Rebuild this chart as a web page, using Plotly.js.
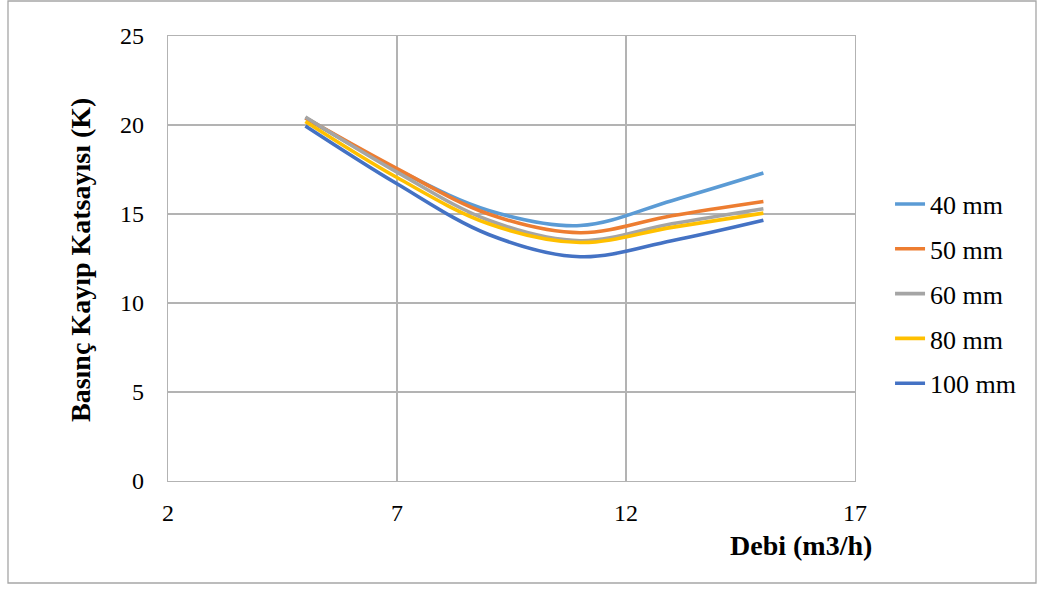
<!DOCTYPE html>
<html>
<head>
<meta charset="utf-8">
<script src="https://cdn.plot.ly/plotly-3.0.1.min.js"></script>
<style>
html,body{margin:0;padding:0;background:#fff;}
#chart{width:1046px;height:590px;}
</style>
</head>
<body>
<div id="chart"></div>
<script>
const debi = [5, 7, 9, 11, 13, 15];
const k40  = [20.4, 17.5, 15.2, 14.35, 15.75, 17.3];
const k50  = [20.4, 17.55, 15.0, 13.95, 14.9, 15.7];
const k60  = [20.45, 17.35, 14.65, 13.5, 14.45, 15.3];
const k80  = [20.2, 17.05, 14.45, 13.4, 14.25, 15.05];
const k100 = [19.95, 16.7, 13.85, 12.6, 13.5, 14.65];
const names = ["40 mm", "50 mm", "60 mm", "80 mm", "100 mm"];
const series = [k40, k50, k60, k80, k100];
const colors = ["#5B9BD5", "#ED7D31", "#A5A5A5", "#FFC000", "#4472C4"];
const xTicks = [2, 7, 12, 17];
const yTicks = [0, 5, 10, 15, 20, 25];

const traces = series.map((s, i) => ({
  x: debi, y: s, name: names[i], type: "scatter", mode: "lines",
  legendgroup: "g" + i,
  line: {color: colors[i], width: 3.6, shape: "spline", smoothing: 1.0}
}));

const font = {family: "Liberation Serif, Times New Roman, serif", color: "#000"};
const gridc = "#b3b3b3";

const layout = {
  width: 1046, height: 590,
  margin: {l: 168, r: 191, t: 36, b: 109},
  paper_bgcolor: "#fff", plot_bgcolor: "#fff",
  font: Object.assign({size: 24}, font),
  showlegend: true,
  legend: {x: 1.051, y: 0.42, xanchor: "left", yanchor: "middle",
           font: Object.assign({size: 26}, font), tracegroupgap: 8,
           bgcolor: "rgba(0,0,0,0)"},
  xaxis: {range: [2, 17], tickvals: xTicks, ticktext: xTicks.map(String),
          showgrid: true, gridcolor: gridc, gridwidth: 1.3,
          showline: true, linecolor: gridc, linewidth: 1.3, mirror: true,
          zeroline: false, ticks: "", ticklabelstandoff: 10,
          tickfont: Object.assign({size: 24}, font)},
  yaxis: {range: [0, 25], tickvals: yTicks, ticktext: yTicks.map(String),
          showgrid: true, gridcolor: gridc, gridwidth: 1.3,
          showline: true, linecolor: gridc, linewidth: 1.3, mirror: true,
          zeroline: false, ticks: "", ticklabelstandoff: 18,
          tickfont: Object.assign({size: 24}, font)},
  annotations: [
    {text: "<b>Basınç Kayıp Katsayısı (K)</b>", xref: "paper", yref: "paper",
     x: (80 - 168) / 687, y: (481 - 260) / 445, xanchor: "center", yanchor: "middle", textangle: -90,
     showarrow: false, font: Object.assign({size: 28}, font)},
    {text: "<b>Debi (m3/h)</b>", xref: "paper", yref: "paper",
     x: (874 - 168) / 687, y: (481 - 545) / 445, xanchor: "right", yanchor: "middle",
     showarrow: false, font: Object.assign({size: 28}, font)}
  ],
  shapes: [
    {type: "rect", xref: "paper", yref: "paper",
     x0: (8 - 168) / 687, x1: (1036 - 168) / 687,
     y0: (481 - 583) / 445, y1: (481 - 1) / 445,
     line: {color: "#a6a6a6", width: 1.3}, fillcolor: "rgba(0,0,0,0)", layer: "below"}
  ]
};

Plotly.newPlot("chart", traces, layout, {displayModeBar: false, staticPlot: true});
</script>
</body>
</html>
